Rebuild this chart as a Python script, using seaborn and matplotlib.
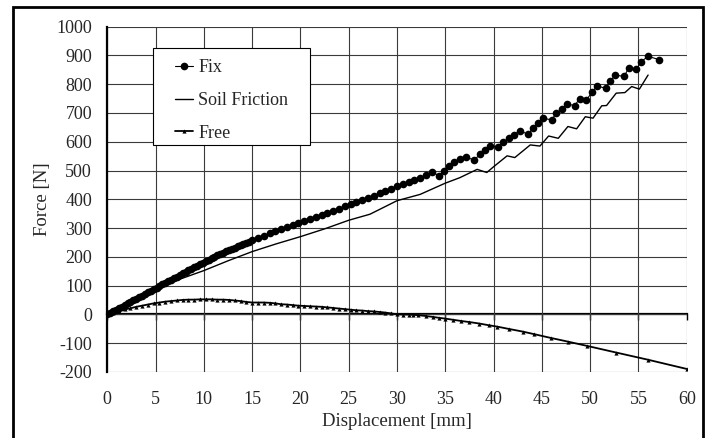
import matplotlib
matplotlib.use("Agg")
import matplotlib.pyplot as plt
import matplotlib.patches as patches
from matplotlib.lines import Line2D
import seaborn as sns

sns.set_style("white")
plt.rcParams["font.family"] = ["Liberation Serif", "DejaVu Serif"]
plt.rcParams["axes.unicode_minus"] = False

# data
fix_x = [0.0, 0.3, 0.6, 0.9, 1.2, 1.5, 1.8, 2.1, 2.4, 2.7, 3.0, 3.3, 3.6, 3.9, 4.2, 4.5, 4.8,
         5.1, 5.4, 5.7, 6.0, 6.3, 6.6, 6.9, 7.2, 7.5, 7.8, 8.1, 8.4, 8.7, 9.0, 9.3, 9.6, 9.9,
         10.2, 10.5, 10.8, 11.1, 11.4, 11.7, 12.0, 12.3, 12.6, 12.9, 13.2, 13.5, 13.8, 14.1,
         14.4, 14.7, 15.0, 15.6, 16.2, 16.8, 17.4, 18.0,
         18.6, 19.2, 19.8, 20.4, 21.0, 21.6, 22.2, 22.8, 23.4, 24.0, 24.6, 25.2, 25.8, 26.4,
         27.0, 27.6, 28.2, 28.8, 29.4, 30.0, 30.6, 31.2, 31.8, 32.4, 33.0, 33.6,
         34.4, 34.9, 35.4, 35.9, 36.5, 37.1, 38.0, 38.6, 39.1, 39.6, 40.5, 41.0, 41.6, 42.1,
         42.7, 43.6, 44.1, 44.6, 45.1, 46.0, 46.5, 47.1, 47.6, 48.4, 48.9, 49.6, 50.2, 50.7,
         51.6, 52.1, 52.6, 53.5, 54.0, 54.8, 55.3, 56.0, 57.1]
fix_y = [0, 5, 11, 16, 22, 27, 33, 38, 44, 49, 54, 60, 65, 71, 76, 82, 87,
         93, 98, 104, 109, 115, 120, 126, 131, 137, 142, 148, 153, 158, 164, 169, 174, 180,
         185, 190, 195, 200, 205, 210, 214, 219, 223, 228, 232, 237, 241, 245,
         249, 253, 257, 265, 273, 281, 289, 296,
         303, 310, 317, 325, 332, 339, 346, 353, 360, 367, 375, 382, 390, 397,
         405, 413, 421, 429, 437, 446, 453, 460, 467, 475, 484, 494,
         482, 500, 516, 529, 539, 546, 537, 556, 571, 586, 581, 598, 612, 624,
         638, 626, 649, 666, 682, 676, 699, 714, 731, 726, 749, 745, 772, 794,
         786, 811, 832, 827, 856, 853, 879, 897, 886]

soil_x = [0, 2.5, 5, 7.5, 10, 12.5, 15, 17.5, 20, 22.5, 25, 27.2, 30, 32.4, 35, 36.5,
          38.3, 39.3, 40.0, 41.4, 42.2, 43.8, 44.8, 45.7, 46.7, 47.7, 48.6, 49.5, 50.3,
          51.2, 51.7, 52.7, 53.6, 54.3, 55.1, 56.0]
soil_y = [0, 44, 88, 122, 152, 186, 218, 245, 270, 297, 327, 348, 395, 417, 456, 475,
          504, 493, 513, 551, 545, 589, 585, 620, 612, 653, 645, 687, 682,
          725, 726, 769, 771, 792, 783, 832]

free_x = [0.0, 0.6, 1.2, 1.8, 2.4, 3.0, 3.6, 4.2, 4.8, 5.4, 6.0, 6.6, 7.2, 7.8, 8.4, 9.0,
          9.6, 10.2, 10.8, 11.4, 12.0, 12.6, 13.2, 13.8, 14.4, 15.0, 15.6, 16.2, 16.8, 17.4,
          18.0, 18.6, 19.2, 19.8, 20.4, 21.0, 21.6, 22.2, 22.8, 23.4, 24.0, 24.6, 25.2, 25.8,
          26.4, 27.0, 27.6, 28.2, 28.8, 29.4, 30.0, 30.6, 31.2, 31.7, 32.2, 33.0, 33.7, 34.3,
          35.0, 35.8, 36.6, 37.5, 38.5, 39.5, 40.4, 41.6, 43.0, 44.2, 45.9, 47.7, 49.7, 52.7,
          56.0, 60.0]
free_y = [0, 6, 12, 17, 21, 26, 30, 34, 38, 41, 44, 46, 48, 50, 51, 51,
          52, 52, 52, 51, 51, 50, 48, 46, 43, 41, 41, 41, 40, 38,
          35, 34, 32, 30, 29, 28, 27, 26, 24, 22, 20, 18, 16, 14,
          13, 11, 10, 8, 6, 3, 0, -1, -1, -2, -3, -6, -9, -12,
          -15, -19, -23, -27, -32, -38, -43, -51, -60, -69, -82, -95, -110, -133,
          -158, -190]

labels = ["Fix", "Soil Friction", "Free"]
x_ticks = list(range(0, 61, 5))
y_ticks = list(range(-200, 1001, 100))

fig = plt.figure(figsize=(7.1, 4.38), dpi=100)
ax = fig.add_axes([0.1511, 0.1511, 0.8161, 0.7879])

sns.lineplot(x=fix_x, y=fix_y, ax=ax, color="black", lw=0.8, marker="o",
             markersize=5.5, markeredgewidth=0, estimator=None, sort=False)
sns.lineplot(x=soil_x, y=soil_y, ax=ax, color="black", lw=1.0,
             estimator=None, sort=False)
sns.lineplot(x=free_x, y=free_y, ax=ax, color="black", lw=1.3, marker="^",
             markersize=3, markeredgewidth=0, estimator=None, sort=False)

ax.set_xlim(0, 60)
ax.set_ylim(-200, 1000)
ax.set_xticks(x_ticks)
ax.set_yticks(y_ticks)
ax.grid(True, color="#3a3a3a", lw=0.8)
ax.set_axisbelow(True)

for s in ["top", "right", "bottom"]:
    ax.spines[s].set_visible(False)
ax.spines["left"].set_color("black")
ax.spines["left"].set_linewidth(1.6)
ax.tick_params(axis="y", direction="out", length=5.5, width=1, color="black", pad=5.5, labelsize=13)
ax.tick_params(axis="x", length=0, pad=14, labelsize=13)

# zero line with ticks
zero = ax.secondary_xaxis(1 / 6)
zero.set_xticks(x_ticks)
zero.tick_params(axis="x", direction="out", length=4, width=1, color="black", labelbottom=False)
zero.spines["bottom"].set_linewidth(1.6)
zero.spines["bottom"].set_color("black")

ax.set_xlabel("Displacement [mm]", fontsize=13.5, labelpad=3.5)
ax.set_ylabel("Force [N]", fontsize=13.5, labelpad=4)

handles = [
    Line2D([], [], color="black", lw=0.8, marker="o", markersize=5.5, markeredgewidth=0),
    Line2D([], [], color="black", lw=1.0),
    Line2D([], [], color="black", lw=1.3, marker="^", markersize=3, markeredgewidth=0),
]
leg = ax.legend(handles, labels, loc="upper left", bbox_to_anchor=(0.1168, 0.906),
                borderaxespad=0, borderpad=0, frameon=False, fontsize=13,
                handlelength=1.0, handletextpad=0.3, labelspacing=0.87)
leg.set_zorder(6)

# legend box: wider side padding than matplotlib's uniform borderpad
fig.canvas.draw()
bb = leg.get_window_extent().transformed(ax.transAxes.inverted())
px = 22 / (0.8161 * 710)
py_top = 11 / (0.7879 * 438)
py_bot = 3 / (0.7879 * 438)
ax.add_patch(patches.Rectangle((bb.x0 - px, bb.y0 - py_bot), bb.width + 2 * px,
                               bb.height + py_top + py_bot,
                               transform=ax.transAxes, facecolor="white", edgecolor="black",
                               lw=0.8, zorder=5.5, clip_on=False))

# outer frame
fig.patches.append(patches.Rectangle((0.0179, -0.05), 0.9718, 1.0333, transform=fig.transFigure,
                                     fill=False, edgecolor="black", lw=2.0))

fig.savefig("out.png", dpi=100)
